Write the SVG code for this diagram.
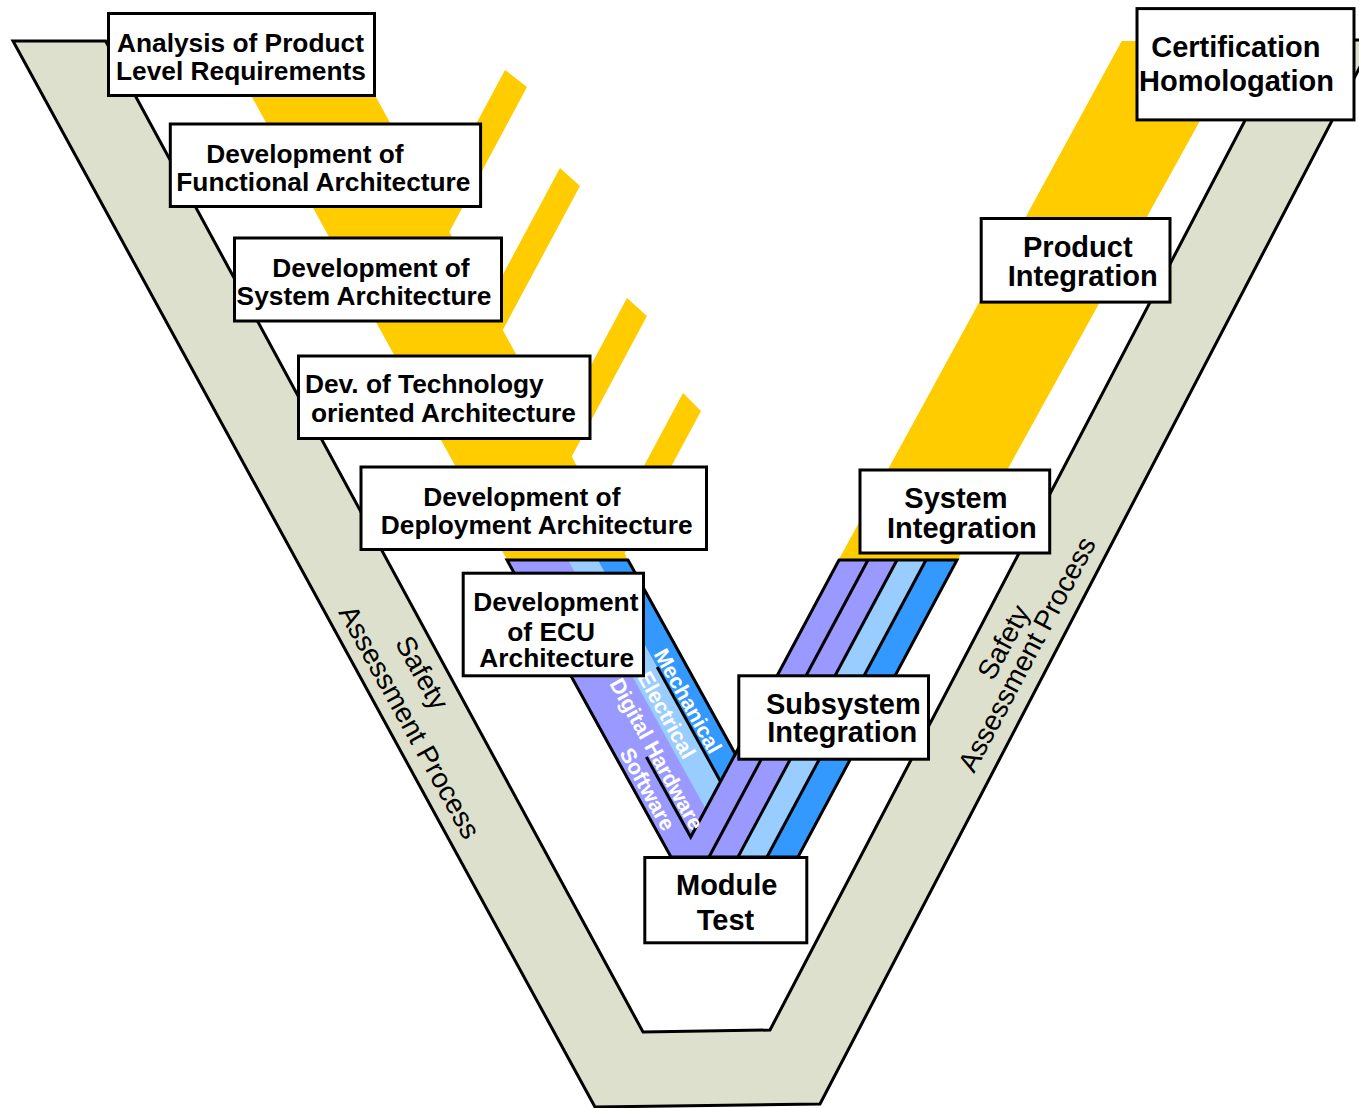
<svg xmlns="http://www.w3.org/2000/svg" width="1359" height="1108" viewBox="0 0 1359 1108">
  <defs>
    <style>
      .box{fill:#fff;stroke:#000;stroke-width:3}
      .t{font-family:"Liberation Sans",Arial,Helvetica,sans-serif;font-weight:bold;fill:#000}
      .s26{font-size:26.3px}
      .s29{font-size:29px}
      .safety{font-family:"Liberation Sans",Arial,Helvetica,sans-serif;font-size:28px;fill:#000;text-anchor:middle}
      .lane{font-family:"Liberation Sans",Arial,Helvetica,sans-serif;font-size:21.5px;font-weight:bold;fill:#fff;text-anchor:middle}
      .edge{fill:none;stroke:#000;stroke-width:3;stroke-linejoin:miter}
    </style>
  </defs>
  <rect width="1359" height="1108" fill="#fff"/>

  <!-- safety assessment band: large V behind everything -->
  <g id="safety-band">
    <path d="M13,41 L105.6,41 L643,1032 L770,1030 L1287,40 L1374,40 L820,1104 L595,1107 Z" fill="#DDE0CC" stroke="#000" stroke-width="3" stroke-linejoin="miter"/>
    <text class="safety" transform="translate(422.5,672.5) rotate(61)" y="10">Safety</text>
    <text class="safety" transform="translate(410,721.7) rotate(61)" y="10">Assessment Process</text>
    <text class="safety" transform="translate(1003,642) rotate(-62)" y="10">Safety</text>
    <text class="safety" transform="translate(1026.5,654) rotate(-62)" y="10">Assessment Process</text>
  </g>

  <g id="connectors">
    <!-- yellow development / integration flow with side branches -->
    <path id="flow-yellow" fill="#FFCC00" d="
      M226,50 L350.4,50 L628.6,561 L507.7,561 Z
      M505,70 L527,87 L439.6,250 L408.5,250 Z
      M560,168 L580,186 L486.7,360 L457,360 Z
      M627,298 L647,316 L559.1,480 L529.4,480 Z
      M683,393 L701,411 L620.6,561 L593,561 Z
      M838,561 L957,561 L1244,41 L1121.7,41 Z"/>

    <!-- domain lanes: software, digital hardware, electrical, mechanical -->
    <g id="lanes">
      <path d="M507,560 L628,560 L735.3,754 L839,560 L957,560 L798,857 L671,857 Z" fill="#9999FF"/>
      <path d="M568,560 L598,560 L720.5,781.5 L705.7,809 Z" fill="#99CCFF"/>
      <path d="M598,560 L628,560 L735.3,754 L720.5,781.5 Z" fill="#3399FF"/>
      <path d="M897,560 L926,560 L767,857 L738,857 Z" fill="#99CCFF"/>
      <path d="M926,560 L957,560 L798,857 L767,857 Z" fill="#3399FF"/>
      <path class="edge" d="M507,560 L628,560 L735.3,754 L839,560 L957,560 L798,857 L671,857 Z"/>
      <path class="edge" d="M646.4,757 L690.7,837 L735.3,754"/>
      <path class="edge" d="M657.2,667 L720.5,781.5"/>
      <path class="edge" d="M868,560 L709,857"/>
      <path class="edge" d="M897,560 L738,857"/>
      <path class="edge" d="M926,560 L767,857"/>
      <text class="lane" transform="translate(688,701) rotate(61)" y="7.5">Mechanical</text>
      <text class="lane" transform="translate(666.7,715) rotate(61)" y="7.5">Electrical</text>
      <text class="lane" transform="translate(656.7,754) rotate(61)" y="7.5">Digital Hardware</text>
      <text class="lane" transform="translate(647.5,789) rotate(61)" y="7.5">Software</text>
    </g>
  </g>

  <!-- process steps -->
  <g id="node-analysis">
    <rect class="box" x="108.5" y="13.5" width="266" height="82"/>
    <text class="t s26" x="117" y="52">Analysis of Product</text>
    <text class="t s26" x="116" y="80">Level Requirements</text>
  </g>
  <g id="node-functional">
    <rect class="box" x="170.3" y="124" width="310.3" height="82.5"/>
    <text class="t s26" x="206.3" y="162.5">Development of</text>
    <text class="t s26" x="176.3" y="191">Functional Architecture</text>
  </g>
  <g id="node-system-arch">
    <rect class="box" x="234.5" y="238" width="267" height="83"/>
    <text class="t s26" x="272.3" y="277">Development of</text>
    <text class="t s26" x="236.6" y="305">System Architecture</text>
  </g>
  <g id="node-technology">
    <rect class="box" x="298.5" y="356" width="291.5" height="82.5"/>
    <text class="t s26" x="305" y="393">Dev. of Technology</text>
    <text class="t s26" x="311" y="421.5">oriented Architecture</text>
  </g>
  <g id="node-deployment">
    <rect class="box" x="361" y="467" width="345.5" height="82.5"/>
    <text class="t s26" x="423.2" y="505.5">Development of</text>
    <text class="t s26" x="380.8" y="534">Deployment Architecture</text>
  </g>
  <g id="node-ecu">
    <rect class="box" x="463.2" y="573.2" width="180.3" height="102.6"/>
    <text class="t s26" x="473.3" y="611">Development</text>
    <text class="t s26" x="507.3" y="640.5">of ECU</text>
    <text class="t s26" x="479.3" y="666.5">Architecture</text>
  </g>
  <g id="node-module-test">
    <rect class="box" x="644.8" y="857.5" width="162" height="85.3"/>
    <text class="t s29" x="676" y="895">Module</text>
    <text class="t s29" x="696.7" y="930">Test</text>
  </g>
  <g id="node-subsystem">
    <rect class="box" x="738.8" y="675.8" width="189.7" height="83.4"/>
    <text class="t s29" x="766" y="714">Subsystem</text>
    <text class="t s29" x="767.3" y="742">Integration</text>
  </g>
  <g id="node-system-int">
    <rect class="box" x="860" y="470" width="189.7" height="83"/>
    <text class="t s29" x="904.3" y="508">System</text>
    <text class="t s29" x="887" y="537.5">Integration</text>
  </g>
  <g id="node-product">
    <rect class="box" x="981.2" y="218.5" width="188.8" height="83.6"/>
    <text class="t s29" x="1023" y="257">Product</text>
    <text class="t s29" x="1007.8" y="285.7">Integration</text>
  </g>
  <g id="node-certification">
    <rect class="box" x="1137" y="8.6" width="217" height="111.3"/>
    <text class="t s29" x="1151.2" y="57">Certification</text>
    <text class="t s29" x="1139" y="91">Homologation</text>
  </g>
</svg>
